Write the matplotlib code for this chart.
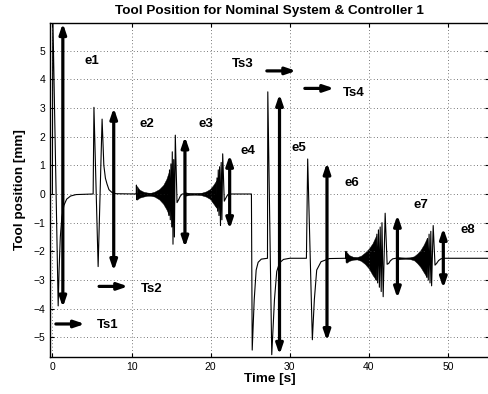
import numpy as np
import matplotlib
matplotlib.use('Agg')
import matplotlib.pyplot as plt

plt.rcParams['font.family'] = ['Liberation Sans', 'DejaVu Sans']

# Tool position trace, vertices (time [s], position [mm])
trace_t = [0.0, 0.05, 0.73, 0.85, 1.0, 1.2, 1.45, 1.8, 2.3, 3.0, 5.15,
           5.25, 5.78, 6.28, 6.5, 6.7, 6.9, 7.15, 7.5, 8.0, 10.58,
           10.6, 10.62, 10.66, 10.72, 14.6,
           14.72, 14.8, 14.9, 14.98, 15.08, 15.15, 15.24, 15.33, 15.42, 15.53,
           15.75, 15.95, 16.15, 16.4, 16.9, 20.6,
           20.72, 20.8, 20.88, 20.96, 21.05, 21.13, 21.24, 21.33, 21.42, 21.52,
           21.72, 21.9, 22.1, 22.3, 25.15,
           25.25, 25.5, 25.75, 26.0, 26.4, 27.18, 27.22, 27.72, 28.06, 28.35,
           28.7, 29.2, 30.0, 32.1, 32.26, 32.85, 33.1, 33.4, 33.95, 35.0, 37.05,
           37.1, 37.15, 37.25, 40.8,
           40.9, 41.0, 41.1, 41.2, 41.32, 41.42, 41.55, 41.65, 41.8, 42.05,
           42.3, 42.5, 42.7, 43.0, 43.4, 47.2,
           47.3, 47.4, 47.5, 47.6, 47.72, 47.82, 47.92, 48.12,
           48.35, 48.55, 48.8, 49.1, 49.4, 56.0]
trace_y = [0.0, 6.3, -3.9, -2.6, -1.5, -0.8, -0.4, -0.18, -0.07, -0.02, 0.0,
           3.02, -2.53, 2.61, 1.0, 0.55, 0.35, 0.15, 0.06, 0.01, 0.0,
           0.0, 0.31, -0.2, 0.0, 0.0,
           -0.75, 0.84, -0.9, 1.05, -1.15, 1.47, -1.75, 1.2, -1.5, 2.05,
           -0.3, -0.2, -0.08, 0.0, 0.0, 0.0,
           -0.45, 0.56, -0.6, 0.84, -0.75, 0.95, -1.1, 1.1, -0.9, 1.4,
           -0.25, -0.15, -0.05, 0.0, 0.0,
           -5.44, -3.7, -2.65, -2.38, -2.27, -2.24, 3.56, -5.6, -3.69, -2.7,
           -2.4, -2.28, -2.24, -2.24, 1.22, -5.08, -3.69, -2.65, -2.36, -2.25, -2.24,
           -2.0, -2.38, -2.24, -2.24,
           -3.0, -1.4, -3.1, -1.25, -3.25, -1.15, -3.4, -1.0, -3.58, -0.67,
           -2.45, -2.42, -2.33, -2.26, -2.24, -2.24,
           -2.9, -1.55, -3.0, -1.4, -3.1, -1.3, -3.2, -1.1,
           -2.48, -2.42, -2.32, -2.26, -2.24, -2.24]

# Dense oscillation bursts: envelope knots (upper / lower)
b1_t = [10.66, 11.0, 11.5, 12.0, 12.4, 12.9, 13.5, 14.0, 14.4, 14.72]
b1_hi = [0.28, 0.15, 0.08, 0.05, 0.04, 0.08, 0.17, 0.31, 0.52, 0.78]
b1_lo = [-0.2, -0.13, -0.09, -0.06, -0.06, -0.09, -0.19, -0.34, -0.53, -0.73]

b2_t = [16.8, 17.3, 18.0, 18.8, 19.4, 19.9, 20.3, 20.72]
b2_hi = [0.06, 0.035, 0.025, 0.04, 0.09, 0.17, 0.3, 0.48]
b2_lo = [-0.06, -0.035, -0.025, -0.04, -0.09, -0.17, -0.32, -0.48]

b3_t = [37.15, 37.5, 38.0, 38.5, 39.0, 39.5, 40.0, 40.45, 40.9]
b3_hi = [-2.02, -2.13, -2.19, -2.2, -2.15, -2.04, -1.9, -1.72, -1.45]
b3_lo = [-2.4, -2.33, -2.29, -2.28, -2.33, -2.44, -2.6, -2.82, -3.0]

b4_t = [43.4, 44.0, 44.6, 45.2, 45.7, 46.1, 46.5, 46.9, 47.3]
b4_hi = [-2.19, -2.21, -2.22, -2.21, -2.17, -2.08, -1.96, -1.78, -1.55]
b4_lo = [-2.29, -2.27, -2.26, -2.27, -2.31, -2.41, -2.54, -2.72, -2.9]

# Event markers (vertical double arrows) and their labels
ev_labels = ['e1', 'e2', 'e3', 'e4', 'e5', 'e6', 'e7', 'e8']
ev_t = [1.32, 7.75, 16.75, 22.4, 28.7, 34.7, 43.6, 49.4]
ev_lo = [-3.95, -2.68, -1.86, -1.22, -5.6, -5.12, -3.63, -3.28]
ev_hi = [5.95, 3.0, 2.0, 1.36, 3.48, 1.09, -0.73, -1.19]
ev_lab_t = [4.94, 12.0, 19.45, 24.7, 31.1, 37.9, 46.55, 52.5]
ev_lab_y = [4.62, 2.44, 2.44, 1.5, 1.62, 0.4, -0.37, -1.27]

# Settling time arrows
ts_labels = ['Ts1', 'Ts2', 'Ts3', 'Ts4']
ts_t0 = [0.44, 5.9, 27.1, 31.9]
ts_t1 = [4.1, 9.56, 30.8, 35.6]
ts_y = [-4.53, -3.22, 4.29, 3.68]
ts_lab_t = [6.94, 12.55, 24.0, 38.1]
ts_lab_y = [-4.56, -3.31, 4.53, 3.52]

fig = plt.figure(figsize=(4.88, 3.94), dpi=100)
ax = fig.add_axes([0.1025, 0.0947, 0.9, 0.8477])

for bt, bh, bl in [(b1_t, b1_hi, b1_lo), (b2_t, b2_hi, b2_lo),
                   (b3_t, b3_hi, b3_lo), (b4_t, b4_hi, b4_lo)]:
    ax.fill_between(bt, bl, bh, color='k', lw=0.3)

ax.plot(trace_t, trace_y, color='k', lw=0.8)

head = 'head_length=0.5,head_width=0.17'
arrow_kw = dict(color='k', lw=2.3, shrinkA=0, shrinkB=0, mutation_scale=12)
for lab, t, lo, hi, lt, ly in zip(ev_labels, ev_t, ev_lo, ev_hi, ev_lab_t, ev_lab_y):
    ax.annotate('', xy=(t, hi), xytext=(t, lo),
                arrowprops=dict(arrowstyle='<|-|>,' + head, **arrow_kw))
    ax.text(lt, ly, lab, fontsize=9.5, fontweight='bold', ha='center', va='center')

for lab, t0, t1, y, lt, ly in zip(ts_labels, ts_t0, ts_t1, ts_y, ts_lab_t, ts_lab_y):
    ax.annotate('', xy=(t1, y), xytext=(t0, y),
                arrowprops=dict(arrowstyle='-|>,' + head, **arrow_kw))
    ax.text(lt, ly, lab, fontsize=9.5, fontweight='bold', ha='center', va='center')

ax.set_xlim(-0.3, 55.2)
ax.set_ylim(-5.67, 5.97)
ax.set_xticks(np.arange(0, 51, 10))
ax.set_yticks(np.arange(-5, 6, 1))
ax.tick_params(direction='in', length=3, width=0.8, top=True, right=True, labelsize=7.5)
ax.grid(True, color='0.3', lw=0.6, linestyle=(0, (1, 3)))
for s in ax.spines.values():
    s.set_linewidth(1.0)

ax.set_title('Tool Position for Nominal System & Controller 1',
             fontsize=9.7, fontweight='bold', pad=6)
ax.set_xlabel('Time [s]', fontsize=9.7, fontweight='bold', labelpad=1)
ax.set_ylabel('Tool position [mm]', fontsize=9.7, fontweight='bold', labelpad=5)

fig.savefig('out.png', dpi=100)
